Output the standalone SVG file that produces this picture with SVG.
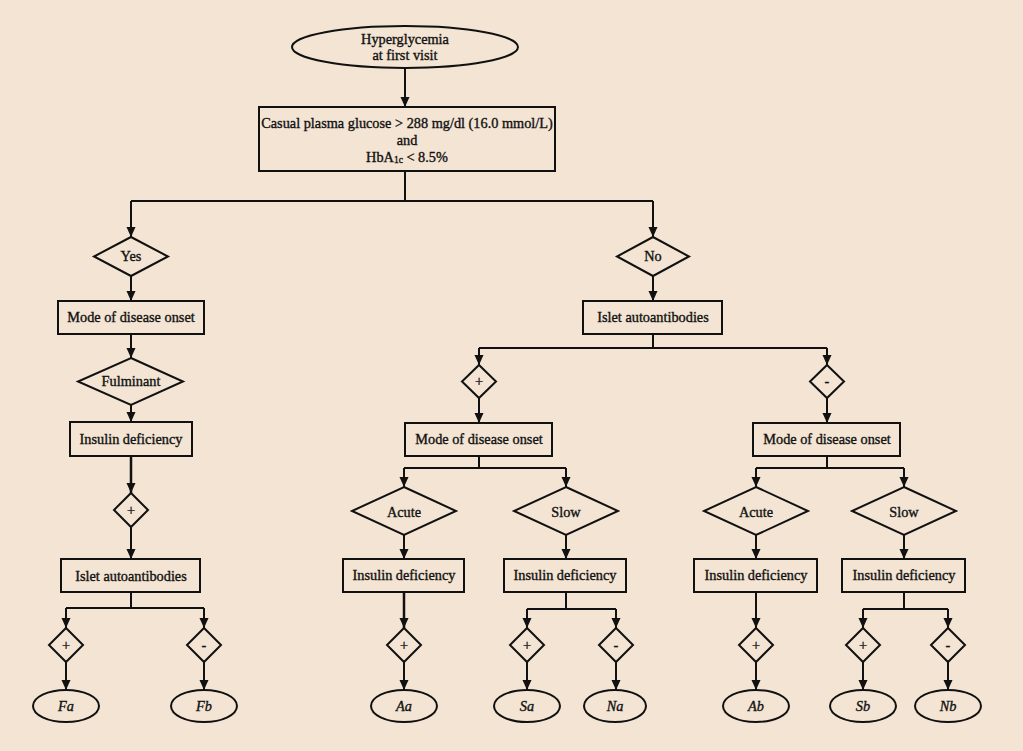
<svg xmlns="http://www.w3.org/2000/svg" width="1023" height="751" viewBox="0 0 1023 751">
<defs>
<marker id="ah" markerUnits="userSpaceOnUse" markerWidth="10" markerHeight="10" refX="10" refY="5" orient="auto"><path d="M0,0.5 L10,5 L0,9.5 z" fill="#111"/></marker>
<style>
.n{fill:none;stroke:#111;stroke-width:2}
.c{fill:none;stroke:#111;stroke-width:2}
.a{marker-end:url(#ah)}
text{font-family:"Liberation Serif","Times New Roman",serif;font-size:14.3px;fill:#111;stroke:#111;stroke-width:0.35;text-anchor:middle;dominant-baseline:central}
.i{font-style:italic}
</style>
</defs>
<rect width="1023" height="751" fill="#f3e4d3"/>
<g id="connectors">
<path class="c a" d="M405,68 V107"/>
<path class="c" d="M405,171 V201 M131,201 H653"/>
<path class="c a" d="M131,201 V237"/>
<path class="c a" d="M653,201 V237"/>
<path class="c a" d="M131,276 V301"/>
<path class="c a" d="M131,334 V358"/>
<path class="c a" d="M131,405 V422"/>
<path class="c a" d="M131,456 V493" style="stroke-width:2.5"/>
<path class="c a" d="M131,527 V559"/>
<path class="c" d="M131,592 V608 M66,608 H204"/>
<path class="c a" d="M66,608 V628"/>
<path class="c a" d="M204,608 V628"/>
<path class="c a" d="M66,662 V690"/>
<path class="c a" d="M204,662 V690"/>
<path class="c a" d="M653,276 V301"/>
<path class="c" d="M653,334 V348 M479,348 H827"/>
<path class="c a" d="M479,348 V365"/>
<path class="c a" d="M827,348 V365"/>
<path class="c a" d="M479,398 V423"/>
<path class="c a" d="M827,398 V423"/>
<path class="c" d="M479,456 V468 M404,468 H566"/>
<path class="c a" d="M404,468 V487"/>
<path class="c a" d="M566,468 V487"/>
<path class="c" d="M827,456 V468 M756,468 H904"/>
<path class="c a" d="M756,468 V487"/>
<path class="c a" d="M904,468 V487"/>
<path class="c a" d="M404,535 V559"/>
<path class="c a" d="M566,535 V559"/>
<path class="c a" d="M756,535 V559"/>
<path class="c a" d="M904,535 V559"/>
<path class="c a" d="M404,592 V628" style="stroke-width:2.5"/>
<path class="c" d="M566,592 V609 M527,609 H616"/>
<path class="c a" d="M527,609 V628"/>
<path class="c a" d="M616,609 V628"/>
<path class="c a" d="M756,592 V628"/>
<path class="c" d="M904,592 V609 M863,609 H948"/>
<path class="c a" d="M863,609 V628"/>
<path class="c a" d="M948,609 V628"/>
<path class="c a" d="M404,662 V690"/>
<path class="c a" d="M527,662 V690"/>
<path class="c a" d="M616,662 V690"/>
<path class="c a" d="M756,662 V690"/>
<path class="c a" d="M863,662 V690"/>
<path class="c a" d="M948,662 V690"/>
</g>
<g id="start"><ellipse class="n" cx="405" cy="47" rx="113" ry="21"/><text x="405" y="39">Hyperglycemia</text><text x="405" y="55">at first visit</text></g>
<g id="criteria"><rect class="n" x="259" y="107" width="296" height="64"/><text x="407" y="123">Casual plasma glucose &gt; 288 mg/dl (16.0 mmol/L)</text><text x="407" y="140">and</text><text x="407" y="157">HbA<tspan font-size="9.5" dy="3">1c</tspan><tspan dy="-3"> &lt; 8.5%</tspan></text></g>
<g id="yes"><path class="n" d="M131,237 L168,256.5 L131,276 L94,256.5 Z"/><text x="131" y="256">Yes</text></g>
<g id="no"><path class="n" d="M653,237 L689,256.5 L653,276 L617,256.5 Z"/><text x="653" y="256">No</text></g>
<g id="mode-y"><rect class="n" x="58" y="301" width="146" height="33"/><text x="131" y="317">Mode of disease onset</text></g>
<g id="fulminant"><path class="n" d="M131,358 L183,381.5 L131,405 L78,381.5 Z"/><text x="131" y="381">Fulminant</text></g>
<g id="ins-y"><rect class="n" x="70" y="422" width="122" height="34"/><text x="131" y="439">Insulin deficiency</text></g>
<g id="plus-y"><path class="n" d="M131,493 L148,510 L131,527 L114,510 Z"/><text x="131" y="510">+</text></g>
<g id="islet-y"><rect class="n" x="61" y="559" width="139" height="33"/><text x="131" y="576">Islet autoantibodies</text></g>
<g id="fa-plus"><path class="n" d="M66,628 L83,645 L66,662 L49,645 Z"/><text x="66" y="645">+</text></g>
<g id="fb-minus"><path class="n" d="M204,628 L221,645 L204,662 L187,645 Z"/><text x="204" y="645">-</text></g>
<g id="fa"><ellipse class="n" cx="66" cy="706" rx="33" ry="16"/><text class="i" x="66" y="706">Fa</text></g>
<g id="fb"><ellipse class="n" cx="204" cy="706" rx="33" ry="16"/><text class="i" x="204" y="706">Fb</text></g>
<g id="islet-n"><rect class="n" x="583" y="301" width="139" height="33"/><text x="653" y="317">Islet autoantibodies</text></g>
<g id="plus-n"><path class="n" d="M479,365 L496,381.5 L479,398 L462,381.5 Z"/><text x="479" y="381">+</text></g>
<g id="minus-n"><path class="n" d="M827,365 L844,381.5 L827,398 L810,381.5 Z"/><text x="827" y="381">-</text></g>
<g id="mode-a"><rect class="n" x="405" y="423" width="147" height="33"/><text x="479" y="439">Mode of disease onset</text></g>
<g id="mode-b"><rect class="n" x="753" y="423" width="147" height="33"/><text x="827" y="439">Mode of disease onset</text></g>
<g id="acute-a"><path class="n" d="M404,487 L456,511 L404,535 L352,511 Z"/><text x="404" y="512">Acute</text></g>
<g id="slow-a"><path class="n" d="M566,487 L618,511 L566,535 L514,511 Z"/><text x="566" y="512">Slow</text></g>
<g id="acute-b"><path class="n" d="M756,487 L808,511 L756,535 L704,511 Z"/><text x="756" y="512">Acute</text></g>
<g id="slow-b"><path class="n" d="M904,487 L956,511 L904,535 L852,511 Z"/><text x="904" y="512">Slow</text></g>
<g id="ins-aa"><rect class="n" x="343" y="559" width="121" height="33"/><text x="404" y="575">Insulin deficiency</text></g>
<g id="ins-sa"><rect class="n" x="504" y="559" width="122" height="33"/><text x="565" y="575">Insulin deficiency</text></g>
<g id="ins-ab"><rect class="n" x="694" y="559" width="123" height="33"/><text x="756" y="575">Insulin deficiency</text></g>
<g id="ins-sb"><rect class="n" x="842" y="559" width="123" height="33"/><text x="904" y="575">Insulin deficiency</text></g>
<g id="aa-plus"><path class="n" d="M404,628 L421,645 L404,662 L387,645 Z"/><text x="404" y="645">+</text></g>
<g id="sa-plus"><path class="n" d="M527,628 L544,645 L527,662 L510,645 Z"/><text x="527" y="645">+</text></g>
<g id="na-minus"><path class="n" d="M616,628 L633,645 L616,662 L599,645 Z"/><text x="616" y="645">-</text></g>
<g id="ab-plus"><path class="n" d="M756,628 L773,645 L756,662 L739,645 Z"/><text x="756" y="645">+</text></g>
<g id="sb-plus"><path class="n" d="M863,628 L880,645 L863,662 L846,645 Z"/><text x="863" y="645">+</text></g>
<g id="nb-minus"><path class="n" d="M948,628 L965,645 L948,662 L931,645 Z"/><text x="948" y="645">-</text></g>
<g id="aa"><ellipse class="n" cx="404" cy="706" rx="33" ry="16"/><text class="i" x="404" y="706">Aa</text></g>
<g id="sa"><ellipse class="n" cx="527" cy="706" rx="33" ry="16"/><text class="i" x="527" y="706">Sa</text></g>
<g id="na"><ellipse class="n" cx="615" cy="706" rx="31" ry="16"/><text class="i" x="615" y="706">Na</text></g>
<g id="ab"><ellipse class="n" cx="756" cy="706" rx="33" ry="16"/><text class="i" x="756" y="706">Ab</text></g>
<g id="sb"><ellipse class="n" cx="863" cy="706" rx="33" ry="16"/><text class="i" x="863" y="706">Sb</text></g>
<g id="nb"><ellipse class="n" cx="948" cy="706" rx="33" ry="16"/><text class="i" x="948" y="706">Nb</text></g>
</svg>
